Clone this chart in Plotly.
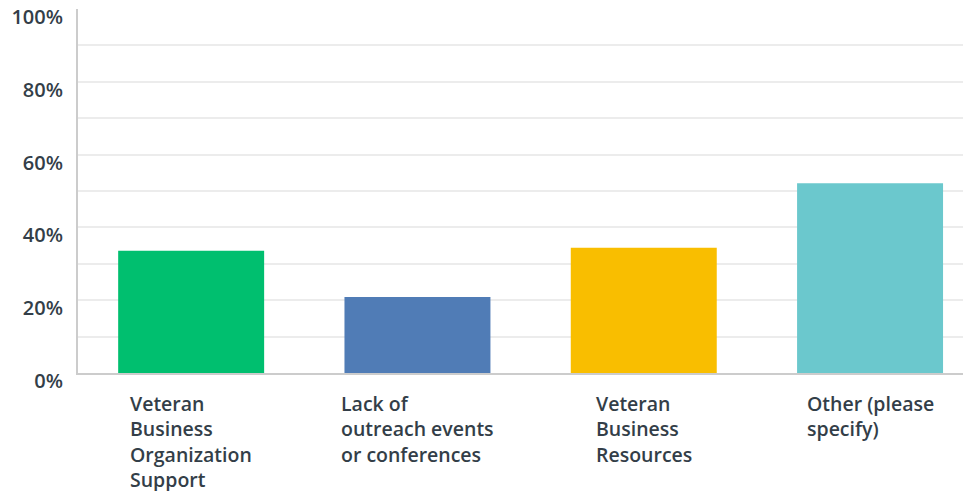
import plotly.graph_objects as go

categories = ["Veteran<br>Business<br>Organization<br>Support",
              "Lack of<br>outreach events<br>or conferences",
              "Veteran<br>Business<br>Resources",
              "Other (please<br>specify)"]
values = [33.6, 20.9, 34.4, 52.1]
colors = ["#00bf6f", "#507cb6", "#f9be00", "#6bc8cd"]
tick_vals = [0, 10, 20, 30, 40, 50, 60, 70, 80, 90, 100]
tick_text = ["0%", "", "20%", "", "40%", "", "60%", "", "80%", "", "100%"]

txt = "#333e48"
font_family = "Open Sans"
xs = list(range(len(categories)))

fig = go.Figure(go.Bar(x=xs, y=values, marker=dict(color=colors, line=dict(width=0)),
                       width=0.645, hoverinfo="skip"))

for i, c in enumerate(categories):
    fig.add_annotation(x=xs[i], y=0, xref="x", yref="paper", text=c, showarrow=False,
                       xanchor="center", yanchor="top", align="left", yshift=-15,
                       font=dict(family=font_family, size=19.5, color=txt, weight=600))

fig.update_layout(
    width=963, height=483,
    margin=dict(l=70, r=0, t=1, b=118, autoexpand=False),
    paper_bgcolor="white", plot_bgcolor="white",
    showlegend=False,
    xaxis=dict(range=[-0.5, 3.446], showticklabels=False, showgrid=False, zeroline=False,
               showline=True, linecolor="#cccccc", linewidth=2, ticks="", automargin=False),
    yaxis=dict(range=[0, 100], tickvals=tick_vals, ticktext=tick_text,
               showgrid=True, gridcolor="#ececec", gridwidth=2, zeroline=False,
               showline=True, linecolor="#cccccc", linewidth=2, ticks="", automargin=False,
               ticklabelshift=8, ticklabelstandoff=9, ticklabeloverflow="allow",
               tickfont=dict(family=font_family, size=20, color=txt, weight=600)),
)

fig.write_html("out.html")
